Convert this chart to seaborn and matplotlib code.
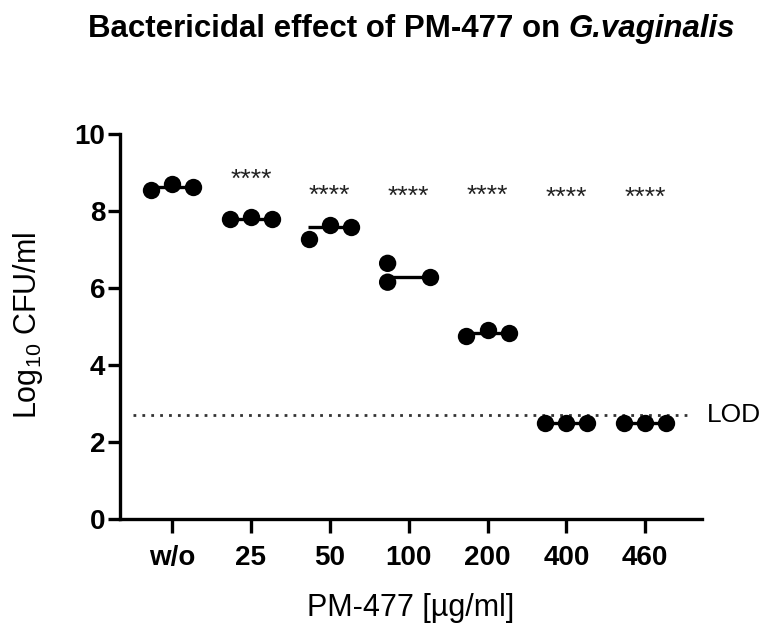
import numpy as np
import pandas as pd
import matplotlib
matplotlib.use("Agg")
import matplotlib.pyplot as plt
import seaborn as sns

# data (log10 CFU/ml, three replicates)
groups = ["w/o", "25", "50", "100", "200", "400", "460"]
rep1 = [8.55, 7.79, 7.27, 6.64, 4.74, 2.5, 2.5]
rep2 = [8.69, 7.85, 7.63, 6.15, 4.91, 2.5, 2.5]
rep3 = [8.63, 7.79, 7.59, 6.29, 4.82, 2.5, 2.5]
# column each replicate sits in within its group (Prism scatter layout)
slot1 = ["left"] * 7
slot2 = ["mid", "mid", "mid", "left", "mid", "mid", "mid"]
slot3 = ["right"] * 7
significance = ["", "****", "****", "****", "****", "****", "****"]
star_y = [None, 9.0, 8.58, 8.55, 8.57, 8.53, 8.53]
lod = 2.7

sns.set_style("ticks")
plt.rcParams["font.family"] = ["Liberation Sans", "DejaVu Sans"]
plt.rcParams["mathtext.fontset"] = "custom"
plt.rcParams["mathtext.rm"] = "Liberation Sans"
plt.rcParams["mathtext.it"] = "Liberation Sans:italic"
plt.rcParams["mathtext.bf"] = "Liberation Sans:bold"
for key in ["text.color", "axes.labelcolor", "axes.edgecolor", "xtick.color", "ytick.color"]:
    plt.rcParams[key] = "black"

df = pd.DataFrame({
    "group": groups * 3,
    "value": rep1 + rep2 + rep3,
    "slot": slot1 + slot2 + slot3,
})

fig = plt.figure(figsize=(7.63, 6.24), dpi=100)
ax = fig.add_axes([0.1573, 0.1683, 0.7628, 0.617])

# median lines first so the dots sit on top
medians = df.groupby("group", sort=False)["value"].median().reindex(groups)
ax.hlines(medians.values, np.arange(len(groups)) - 0.28, np.arange(len(groups)) + 0.28,
          color="black", lw=2.4, zorder=2)

sns.stripplot(data=df, x="group", y="value", hue="slot", order=groups,
              hue_order=["left", "mid", "right"], palette=["black"] * 3,
              dodge=True, jitter=False, size=12.5, linewidth=0, legend=False,
              zorder=3, ax=ax)

# limit of detection
ax.plot([-0.5, 6.6], [lod, lod], color="#333333", lw=2, ls=(0, (1, 2.2)), zorder=1)
ax.text(6.78, lod, "LOD", fontsize=19, va="center", ha="left")

for i, (s, y) in enumerate(zip(significance, star_y)):
    if s:
        ax.annotate(s, (i, y), xytext=(0, -10), textcoords="offset points",
                    ha="center", va="baseline", fontsize=19, color="#222222")

ax.set_xlim(-0.66, 6.72)
ax.set_ylim(0, 10)
ax.set_yticks([0, 2, 4, 6, 8, 10])
ax.set_xlabel("")
ax.set_ylabel("")
sns.despine(ax=ax)
for side in ["left", "bottom"]:
    ax.spines[side].set_linewidth(2.4)
ax.tick_params(axis="y", width=2.4, length=8.5, pad=2, labelsize=20)
ax.tick_params(axis="x", width=2.4, length=10, pad=9, labelsize=20)
for lab in ax.get_xticklabels() + ax.get_yticklabels():
    lab.set_fontweight("bold")

fig.text(0.538, 0.0128, "PM-477 [µg/ml]", ha="center", va="baseline", fontsize=22)
fig.text(0.037, 0.479, r"Log$_{10}$ CFU/ml", rotation=90, ha="center", va="center",
         fontsize=22)

# title: bold, species name in bold italic
fig.canvas.draw()
renderer = fig.canvas.get_renderer()
t1 = fig.text(0, 0.94, "Bactericidal effect of PM-477 on ", fontsize=22.5, fontweight="bold",
              va="baseline", ha="left")
t2 = fig.text(0, 0.94, "G.vaginalis", fontsize=22.5, fontweight="bold", style="italic",
              va="baseline", ha="left")
w1 = t1.get_window_extent(renderer).width
w2 = t2.get_window_extent(renderer).width
fig_w = fig.bbox.width
x0 = 0.539 - (w1 + w2) / 2 / fig_w
t1.set_x(x0)
t2.set_x(x0 + w1 / fig_w)

fig.savefig("out.png", dpi=100)
